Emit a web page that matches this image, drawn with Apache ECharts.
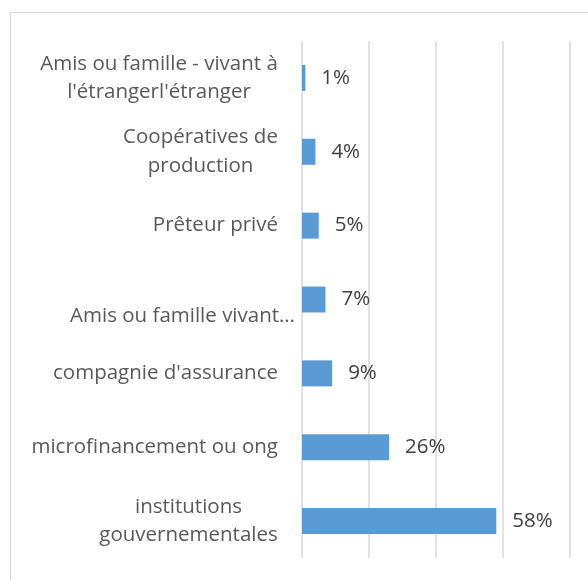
<!DOCTYPE html>
<html>
<head>
<meta charset="utf-8">
<script src="https://cdn.jsdelivr.net/npm/echarts@6/dist/echarts.min.js"></script>
<style>
  html, body { margin: 0; padding: 0; background: #fff; }
  #frame { position: absolute; left: 10px; top: 12px; width: 600px; height: 600px; border: 1px solid #d9d9d9; box-sizing: border-box; }
  #chart { position: absolute; left: 0; top: 0; width: 588px; height: 580px; }
</style>
</head>
<body>
<div id="frame"></div>
<div id="chart"></div>
<script>
// Sources of financing, share of respondents (%)
const categories = [
  "Amis ou famille - vivant à\nl'étrangerl'étranger",
  "Coopératives de\nproduction",
  "Prêteur privé",
  "Amis ou famille vivant…",
  "compagnie d'assurance",
  "microfinancement ou ong",
  "institutions\ngouvernementales"
];
const values = [1, 4, 5, 7, 9, 26, 58];
const truncatedIndex = 3;

const FONT = "'Open Sans', sans-serif";
const LABEL_SIZE = 20.5;
const LINE_H = 28.5;

// measure text so multi-line labels can be centred inside a right-aligned block
const ctx = document.createElement('canvas').getContext('2d');
ctx.font = LABEL_SIZE + 'px ' + FONT;
const base = { fontFamily: FONT, fontSize: LABEL_SIZE, color: '#595959', lineHeight: LINE_H };
const rich = {
  n: Object.assign({}, base, { padding: [0, 17, 0, 0] }),
  s: Object.assign({}, base, { padding: [34, 0, 0, 0] })
};
categories.forEach((c, i) => {
  const lines = c.split('\n');
  if (lines.length > 1) {
    const w = Math.max(...lines.map(l => ctx.measureText(l).width));
    rich['m' + i] = Object.assign({}, base, { width: Math.ceil(w), align: 'center', padding: [0, 17, 0, 0] });
  }
});

const chart = echarts.init(document.getElementById('chart'), null, { renderer: 'canvas' });
chart.setOption({
  animation: false,
  grid: { left: 302, right: 18, top: 41, bottom: 22, containLabel: false },
  xAxis: {
    type: 'value', min: 0, max: 80, interval: 20,
    axisLabel: { show: false }, axisTick: { show: false }, axisLine: { show: false },
    splitLine: { show: true, lineStyle: { color: '#d9d9d9', width: 1.5 } }
  },
  yAxis: {
    type: 'category', inverse: true, data: categories,
    axisTick: { show: false }, axisLine: { show: false },
    axisLabel: {
      margin: 7, interval: 0,
      formatter: (v, i) => {
        const lines = v.split('\n');
        if (lines.length > 1) return lines.map(l => '{m' + i + '|' + l + '}').join('\n');
        return (i === truncatedIndex ? '{s|' : '{n|') + v + '}';
      },
      rich: rich
    }
  },
  series: [{
    type: 'bar', data: values, barWidth: 26,
    itemStyle: { color: '#5b9bd5' },
    label: {
      show: true, position: 'right', distance: 16,
      formatter: '{c}%', color: '#404040', fontSize: 20.5, fontFamily: FONT
    }
  }]
});
</script>
</body>
</html>
